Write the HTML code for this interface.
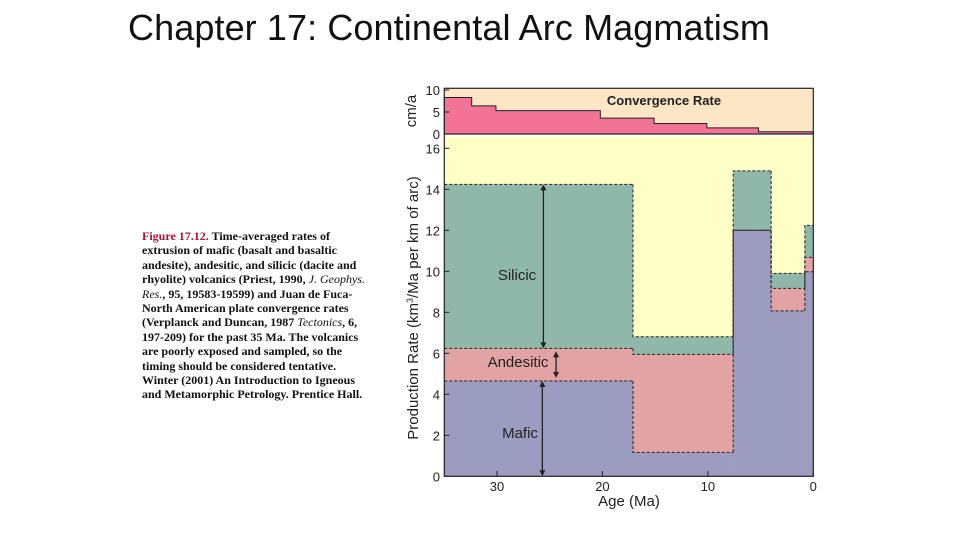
<!DOCTYPE html>
<html><head><meta charset="utf-8"><style>
body{margin:0;width:960px;height:540px;background:#fff;position:relative;overflow:hidden;font-family:"Liberation Sans",sans-serif}
#title{position:absolute;left:128px;top:7px;font-size:36px;color:#111;white-space:nowrap;letter-spacing:0.1px}
#cap{position:absolute;left:142px;top:229px;font-family:"Liberation Serif",serif;font-weight:bold;font-size:12px;line-height:14.4px;color:#111;white-space:nowrap;letter-spacing:0px}
#cap .r{color:#b0103a}#cap i{font-weight:normal}
svg{position:absolute;left:0;top:0}
</style></head><body>
<div id="title">Chapter 17: Continental Arc Magmatism</div>
<div id="cap"><span class="r">Figure 17.12.</span> Time-averaged rates of<br>extrusion of mafic (basalt and basaltic<br>andesite), andesitic, and silicic (dacite and<br>rhyolite) volcanics (Priest, 1990, <i>J. Geophys.</i><br><i>Res.</i>, 95, 19583-19599) and Juan de Fuca-<br>North American plate convergence rates<br>(Verplanck and Duncan, 1987 <i>Tectonics</i>, 6,<br>197-209) for the past 35 Ma. The volcanics<br>are poorly exposed and sampled, so the<br>timing should be considered tentative.<br>Winter (2001) An Introduction to Igneous<br>and Metamorphic Petrology. Prentice Hall.</div>
<svg id="chart" width="960" height="540"></svg>
<script>
const convStarts=[35,32.4,30.1,20.2,15.1,10.1,5.2];
const convEnds=[32.4,30.1,20.2,15.1,10.1,5.2,0];
const convRates=[8.3,6.4,5.3,3.6,2.4,1.4,0.5];
const segStarts=[35,17.1,7.6,4.0,0.8];
const segEnds=[17.1,7.6,4.0,0.8,0];
const mafic=[4.65,1.17,12.0,8.07,9.98];
const andesitic=[6.24,5.95,12.0,9.17,10.68];
const silicic=[14.24,6.81,14.9,9.9,12.24];
const prodTicks=[0,2,4,6,8,10,12,14,16];
const convTicks=[0,5,10];
const ageTicks=[30,20,10,0];

const NS='http://www.w3.org/2000/svg';
const svg=document.getElementById('chart');
const X0=444.3,X1=813.3;
const x=a=>X0+(35-a)*(X1-X0)/35;
const yP=v=>476.3-v*20.5;
const yC=v=>134-v*4.4;
const PTOP=136.7,CTOP=88.3;
function el(t,a,p){const e=document.createElementNS(NS,t);for(const k in a)e.setAttribute(k,a[k]);(p||svg).appendChild(e);return e;}

const bgC=el('rect',{x:X0,y:CTOP,width:X1-X0,height:134-CTOP,fill:'#fde6c6'});


const bgP=el('rect',{x:X0,y:PTOP,width:X1-X0,height:476.3-PTOP,fill:'#ffffc6'});



let d=`M${x(35)},${yC(0)}`;
convRates.forEach((r,i)=>{d+=` L${x(convStarts[i])},${yC(r)} L${x(convEnds[i])},${yC(r)}`;});
d+=` L${x(0)},${yC(0)} Z`;
const cp=el('path',{d,fill:'#f27396',stroke:'#222','stroke-width':1});



const layers=[[silicic,'#8fb8ab','silicic'],[andesitic,'#e1a3a3','andesitic'],[mafic,'#9c9bc0','mafic']];
layers.forEach(([arr,col,nm])=>{
  arr.forEach((v,i)=>{
    const r=el('rect',{x:x(segStarts[i]),y:yP(v),width:x(segEnds[i])-x(segStarts[i]),height:yP(0)-yP(v),fill:col});
    
    
  });
});
layers.forEach(([arr,col,nm])=>{
  let dd='';
  arr.forEach((v,i)=>{
    const prev=i>0?arr[i-1]:0;
    dd+=`M${x(segStarts[i])},${yP(i>0?prev:v)} L${x(segStarts[i])},${yP(v)} L${x(segEnds[i])},${yP(v)} `;
  });
  const p=el('path',{d:dd,fill:'none',stroke:'#222','stroke-width':1,'stroke-dasharray':'3,2'});
  
  
});
function arrow(a,v1,v2,nm){
  const g=el('g',{});
  
  
  const xx=x(a),ya=yP(v1),yb=yP(v2);
  el('line',{x1:xx,y1:ya+4,x2:xx,y2:yb-4,stroke:'#222','stroke-width':1.3},g);
  el('path',{d:`M${xx-3},${ya+6} L${xx},${ya} L${xx+3},${ya+6} Z M${xx-3},${yb-6} L${xx},${yb} L${xx+3},${yb-6} Z`,fill:'#222'},g);
}
arrow(25.6,14.24,6.24,'silicic-arrow');
arrow(24.4,6.1,4.8,'andesitic-arrow');
arrow(25.7,4.65,0,'mafic-arrow');
const fr=el('rect',{x:X0,y:CTOP,width:X1-X0,height:476.3-CTOP,fill:'none',stroke:'#222','stroke-width':1.2});


el('line',{x1:X0,y1:134,x2:X1,y2:134,stroke:'#222','stroke-width':1.2});

function txt(s,a,nm){const t=el('text',a);t.textContent=s;return t;}
prodTicks.forEach(v=>{
  el('line',{x1:X0,y1:yP(v),x2:X0+5,y2:yP(v),stroke:'#222'});
  txt(String(v),{x:440,y:yP(v)+5,'text-anchor':'end','font-size':13,fill:'#222'},'y-tick-label');
});
convTicks.forEach(v=>{
  el('line',{x1:X0,y1:yC(v),x2:X0+5,y2:yC(v),stroke:'#222'});
  txt(String(v),{x:440,y:yC(v)+5,'text-anchor':'end','font-size':13,fill:'#222'},'conv-tick-label');
});
ageTicks.forEach(a=>{
  el('line',{x1:x(a),y1:476.3,x2:x(a),y2:471,stroke:'#222'});
  txt(String(a),{x:x(a),y:491,'text-anchor':'middle','font-size':13,fill:'#222'},'x-tick-label');
});
txt('Age (Ma)',{x:629,y:506,'text-anchor':'middle','font-size':15,fill:'#222'},'x-axis-title');
const yt=txt('',{transform:'translate(418,308) rotate(-90)','text-anchor':'middle','font-size':15,fill:'#222'},'y-axis-title');
yt.innerHTML='Production Rate (km<tspan font-size="9" dy="-5">3</tspan><tspan dy="5">/Ma per km of arc)</tspan>';
txt('cm/a',{transform:'translate(416,111) rotate(-90)','text-anchor':'middle','font-size':15,fill:'#222'},'conv-axis-title');
txt('Convergence Rate',{x:664,y:105,'text-anchor':'middle','font-size':13,'font-weight':'bold',fill:'#222'},'convergence-label');
txt('Silicic',{x:517,y:280,'text-anchor':'middle','font-size':15,fill:'#222'},'silicic-label');
txt('Andesitic',{x:518,y:367,'text-anchor':'middle','font-size':15,fill:'#222'},'andesitic-label');
txt('Mafic',{x:520,y:438,'text-anchor':'middle','font-size':15,fill:'#222'},'mafic-label');
</script>
</body></html>
